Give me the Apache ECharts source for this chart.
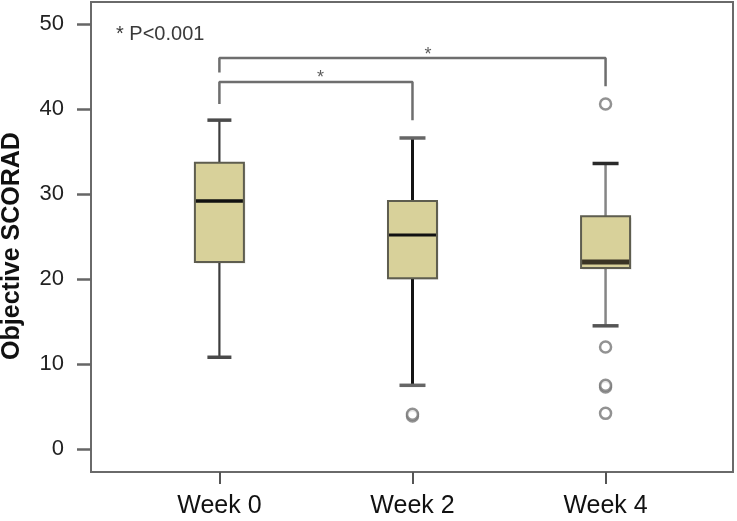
<!DOCTYPE html>
<html>
<head>
<meta charset="utf-8">
<script src="https://cdn.jsdelivr.net/npm/echarts@6/dist/echarts.min.js"></script>
<style>html,body{margin:0;padding:0;background:#fff}#c{width:737px;height:521px}</style>
</head>
<body>
<div id="c"></div>
<script>
// ---- data ----
const categories = ['Week 0', 'Week 2', 'Week 4'];
const whiskerLow = [10.8, 7.5, 14.5];
const q1 = [22.0, 20.1, 21.3];
const median = [29.2, 25.2, 22.0];
const q3 = [33.7, 29.2, 27.4];
const whiskerHigh = [38.7, 36.6, 33.6];
const outliers = [[], [3.9, 4.1], [40.6, 12.0, 7.3, 7.5, 4.2]];
const yTicks = [0, 10, 20, 30, 40, 50];
const xTicks = [0, 1, 2];
// significance brackets: [categoryIndex, value]
const bracketShort = [[0, 40.6], [0, 43.2], [1, 43.2], [1, 38.7]];
const bracketLong = [[0, 44.3], [0, 46.0], [2, 46.0], [2, 42.7]];
const stars = [[0.524, 44.2], [1.08, 46.9]];
const noteText = '* P<0.001';
const yTitle = 'Objective SCORAD';

// ---- styles ----
const FONT = '"Liberation Sans", Arial, sans-serif';
const boxStyles = [
  { whisker: '#3d3d3d', whiskerW: 2.2, cap: '#4a4a4a', capHalf: 12, med: '#111', medW: 3.5 },
  { whisker: '#141414', whiskerW: 3, cap: '#666', capHalf: 13, med: '#111', medW: 3 },
  { whisker: '#858585', whiskerW: 2.5, cap: '#2a2a2a', capLowColor: '#555', capHalf: 13, med: '#3a3424', medW: 5 }
];

function renderBox(params, api) {
  const i = api.value(0);
  const lo = api.coord([i, api.value(1)]);
  const b1 = api.coord([i, api.value(2)]);
  const md = api.coord([i, api.value(3)]);
  const b3 = api.coord([i, api.value(4)]);
  const hi = api.coord([i, api.value(5)]);
  const x = lo[0];
  const st = boxStyles[i];
  const half = 24.5;
  return {
    type: 'group',
    children: [
      { type: 'line', shape: { x1: x, y1: hi[1], x2: x, y2: b3[1] }, style: { stroke: st.whisker, lineWidth: st.whiskerW } },
      { type: 'line', shape: { x1: x, y1: b1[1], x2: x, y2: lo[1] }, style: { stroke: st.whisker, lineWidth: st.whiskerW } },
      { type: 'line', shape: { x1: x - st.capHalf, y1: hi[1], x2: x + st.capHalf, y2: hi[1] }, style: { stroke: st.cap, lineWidth: 3.5 } },
      { type: 'line', shape: { x1: x - st.capHalf, y1: lo[1], x2: x + st.capHalf, y2: lo[1] }, style: { stroke: st.capLowColor || st.cap, lineWidth: 3.5 } },
      { type: 'rect', shape: { x: x - half + 1.5, y: b3[1] + 1.5, width: 2 * half, height: b1[1] - b3[1] }, style: { fill: 'rgba(0,0,0,0.12)' } },
      { type: 'rect', shape: { x: x - half, y: b3[1], width: 2 * half, height: b1[1] - b3[1] }, style: { fill: '#d8d19a', stroke: '#5e5d4f', lineWidth: 2 } },
      { type: 'line', shape: { x1: x - half + 1, y1: md[1], x2: x + half - 1, y2: md[1] }, style: { stroke: st.med, lineWidth: st.medW } }
    ]
  };
}

const boxData = categories.map((c, i) => [i, whiskerLow[i], q1[i], median[i], q3[i], whiskerHigh[i]]);
const outlierData = [];
outliers.forEach((arr, i) => arr.forEach(v => outlierData.push([i, v])));

const chart = echarts.init(document.getElementById('c'), null, { renderer: 'canvas' });
chart.setOption({
  animation: false,
  backgroundColor: '#fff',
  grid: { left: 91, right: 4, top: 2, bottom: 49, show: true, borderColor: '#6a6a6a', borderWidth: 2, backgroundColor: 'transparent' },
  xAxis: {
    type: 'value', min: -0.665, max: 2.66,
    axisLine: { show: false, onZero: false }, splitLine: { show: false },
    axisTick: { show: true, customValues: xTicks, length: 12, lineStyle: { color: '#555', width: 2 } },
    axisLabel: { customValues: xTicks, formatter: v => categories[Math.round(v)], fontSize: 25, color: '#111', margin: 22, fontFamily: FONT }
  },
  yAxis: {
    type: 'value', min: -2.7, max: 52.6,
    axisLine: { show: false, onZero: false }, splitLine: { show: false },
    axisTick: { show: true, customValues: yTicks, length: 14, lineStyle: { color: '#666', width: 2.5 } },
    axisLabel: { customValues: yTicks, fontSize: 22, color: '#222', margin: 27, fontFamily: FONT }
  },
  graphic: [
    { type: 'text', x: 116, y: 34, style: { text: noteText, fontSize: 20, fill: '#3a3a3a', fontFamily: FONT, textVerticalAlign: 'middle' } },
    { type: 'text', x: 12, y: 246, rotation: Math.PI / 2, style: { text: yTitle, fontSize: 25, fontWeight: 'bold', fill: '#111', fontFamily: FONT, textAlign: 'center', textVerticalAlign: 'middle' } }
  ],
  series: [
    { type: 'line', data: bracketShort, symbol: 'none', lineStyle: { color: '#6e6e6e', width: 2.5 }, z: 3 },
    { type: 'line', data: bracketLong, symbol: 'none', lineStyle: { color: '#6e6e6e', width: 2.5 }, z: 3 },
    {
      type: 'scatter', data: stars, symbolSize: 0,
      label: { show: true, formatter: '*', position: 'inside', fontSize: 18, color: '#333', fontFamily: FONT, offset: [0, 5] }, z: 4
    },
    { type: 'custom', renderItem: renderBox, data: boxData, encode: { x: 0, y: [1, 2, 3, 4, 5] }, z: 5 },
    {
      type: 'scatter', data: outlierData, symbol: 'circle', symbolSize: 11,
      itemStyle: { color: '#fff', borderColor: '#777', borderWidth: 2.5 }, z: 6
    }
  ]
});
</script>
</body>
</html>
